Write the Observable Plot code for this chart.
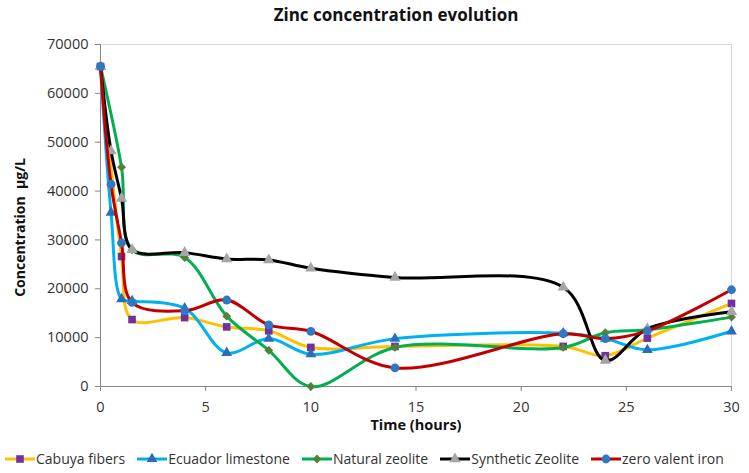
<!DOCTYPE html>
<html>
<head>
<meta charset="utf-8">
<script src="https://cdn.jsdelivr.net/npm/d3@7"></script>
<script src="https://cdn.jsdelivr.net/npm/@observablehq/plot@0.6"></script>
<style>
  body { margin:0; width:749px; height:473px; background:#fff; font-family:"Open Sans", sans-serif; color:#333; overflow:hidden; }
  #title { height:30px; line-height:29px; text-align:center; padding-left:43px; font-weight:bold; font-size:17px; color:#111; white-space:nowrap; }
  #legend { height:33px; display:flex; align-items:center; padding-left:5px; padding-top:4px; box-sizing:border-box; font-size:14px; color:#333; white-space:nowrap; }
  .item { display:flex; align-items:center; margin-right:12px; }
  .item svg { display:block; margin-right:1px; }
</style>
</head>
<body>
<div id="title">Zinc concentration evolution</div>
<div id="chart"></div>
<div id="legend"></div>
<script>
// ---- data ----
const seriesNames = ["Cabuya fibers", "Ecuador limestone", "Natural zeolite", "Synthetic Zeolite", "zero valent iron"];
const cabuyaT   = [0, 1, 1.5, 4, 6, 8, 10, 14, 22, 24, 26, 30];
const cabuyaV   = [65500, 26600, 13700, 14100, 12200, 11400, 8000, 8200, 8200, 6300, 9900, 17000];
const ecuadorT  = [0, 0.5, 1, 1.5, 4, 6, 8, 10, 14, 22, 24, 26, 30];
const ecuadorV  = [65500, 35600, 17900, 17500, 16000, 6900, 9800, 6600, 9800, 10900, 9800, 7500, 11300];
const naturalT  = [0, 1, 1.5, 4, 6, 8, 10, 14, 22, 24, 26, 30];
const naturalV  = [65500, 44900, 28000, 26400, 14400, 7400, 0, 8000, 8000, 11000, 11600, 14200];
const syntheticT = [0, 0.5, 1, 1.5, 4, 6, 8, 10, 14, 22, 24, 26, 30];
const syntheticV = [65500, 48200, 38500, 28000, 27400, 26100, 25900, 24200, 22300, 20300, 5300, 11800, 15300];
const zviT      = [0, 0.5, 1, 1.5, 4, 6, 8, 10, 14, 22, 24, 26, 30];
const zviV      = [65500, 41400, 29400, 17200, 15500, 17700, 12600, 11300, 3800, 10800, 9800, 11400, 19800];
const xTicks = [0, 5, 10, 15, 20, 25, 30];
const yTicks = [0, 10000, 20000, 30000, 40000, 50000, 60000, 70000];

// ---- styles ----
const styles = [
  {line:"#FFC000", marker:"#7030A0", symbol:"square",   r:4.3},
  {line:"#00B0F0", marker:"#2A6EBB", symbol:"triangle", r:4.0},
  {line:"#00B050", marker:"#548235", symbol:"diamond2", r:4.0},
  {line:"#000000", marker:"#A5A5A5", symbol:"triangle", r:4.2},
  {line:"#C00000", marker:"#2F78C4", symbol:"circle",   r:4.4}
];
const raw = [[cabuyaT,cabuyaV],[ecuadorT,ecuadorV],[naturalT,naturalV],[syntheticT,syntheticV],[zviT,zviV]];
const series = raw.map(([t,v], i) => t.map((x, j) => ({name: seriesNames[i], time: x, value: v[j]})));

const marks = [
  Plot.frame({stroke:"#d9d9d9"}),
  Plot.ruleX([0], {stroke:"#868686"}),
  Plot.ruleY([0], {stroke:"#868686"}),
  Plot.axisX({ticks: xTicks, tickSize: 5, tickPadding: 10, stroke:"#868686", fill:"#333", fontSize:14.5, label:null}),
  Plot.axisY({ticks: yTicks, tickSize: 5, tickPadding: 7, tickFormat: "d", stroke:"#868686", fill:"#333", fontSize:14.5, label:null}),
  Plot.text(["Time (hours)"], {frameAnchor:"bottom", lineAnchor:"middle", textAnchor:"middle", dy:39, text: d => d, fontWeight:"bold", fontSize:14.5, fill:"#111"}),
  Plot.text(["Concentration\u00a0 µg/L"], {frameAnchor:"left", lineAnchor:"middle", textAnchor:"middle", dx:-80, dy:12, rotate:-90, text: d => d, fontWeight:"bold", fontSize:14, fill:"#111"})
];
series.forEach((data, i) => {
  const s = styles[i];
  marks.push(Plot.line(data, {x:"time", y:"value", stroke:s.line, strokeWidth:3, curve:"catmull-rom"}));
  marks.push(Plot.dot(data, {x:"time", y:"value", symbol:s.symbol, r:s.r, fill:s.marker, stroke:"none"}));
});

const chart = Plot.plot({
  width: 749,
  height: 410,
  marginTop: 14,
  marginBottom: 54,
  marginLeft: 100,
  marginRight: 18,
  style: {fontFamily: "Open Sans, sans-serif", fontSize: "14.5px", background: "#fff", overflow: "visible"},
  x: {domain: [0, 30], axis: null},
  y: {domain: [0, 70000], axis: null},
  marks
});
document.getElementById("chart").appendChild(chart);

// ---- legend ----
const legend = d3.select("#legend");
const symMap = {square: d3.symbolSquare, triangle: d3.symbolTriangle, diamond2: d3.symbolDiamond2, circle: d3.symbolCircle};
seriesNames.forEach((name, i) => {
  const s = styles[i];
  const item = legend.append("div").attr("class", "item");
  const svg = item.append("svg").attr("width", 30).attr("height", 14);
  svg.append("line").attr("x1", 0).attr("x2", 30).attr("y1", 7).attr("y2", 7).attr("stroke", s.line).attr("stroke-width", 3);
  svg.append("path").attr("transform", "translate(15,7)")
    .attr("d", d3.symbol(symMap[s.symbol], Math.PI * s.r * s.r)())
    .attr("fill", s.marker);
  item.append("span").text(name);
});
</script>
</body>
</html>
